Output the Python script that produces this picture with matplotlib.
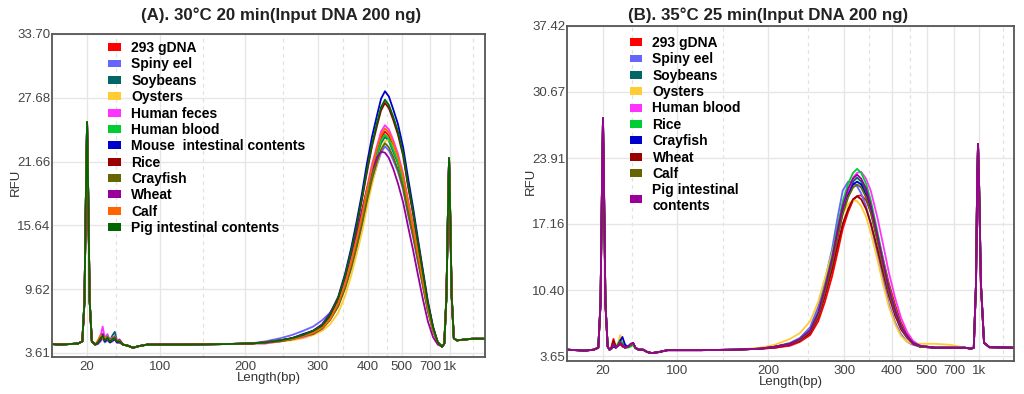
import numpy as np
import matplotlib
matplotlib.use("Agg")
import matplotlib.pyplot as plt
from matplotlib.patches import Patch

plt.rcParams['font.family'] = ['Liberation Sans', 'DejaVu Sans']

# colour order used by the instrument software
palette = ['#FF0000', '#6666FF', '#006666', '#FFCC33', '#FF33FF', '#00CC33',
           '#0000CC', '#990000', '#666600', '#990099', '#FF6600', '#006600']

ladder_labels = ['20', '100', '200', '300', '400', '500', '700', '1k']

# ---------------- panel A : 30°C 20 min ----------------
A_samples = ['293 gDNA', 'Spiny eel', 'Soybeans', 'Oysters', 'Human feces', 'Human blood',
             'Mouse  intestinal contents', 'Rice', 'Crayfish', 'Wheat', 'Calf',
             'Pig intestinal contents']
A_ladder_pos = [8.1, 24.9, 44.6, 61.4, 73.0, 80.8, 87.3, 91.9]
A_yticks = [3.61, 9.62, 15.64, 21.66, 27.68, 33.70]

A_pre_x = [0, 2, 4, 6, 7.0, 7.5, 7.85, 8.1, 8.35, 8.7, 9.2, 10.0]
A_pre_y = [4.45, 4.4, 4.45, 4.5, 4.7, 8.5, 19.0, 25.4, 19.0, 8.5, 4.7, 4.4]
A_bump_x = [10.6, 11.2, 11.7, 12.2, 12.8, 13.4, 14.0, 14.5, 15.0, 15.6, 16.4]
A_bumps = [
    [4.6, 5.0, 5.3, 4.8, 5.1, 4.7, 4.9, 5.0, 4.6, 4.8, 4.4],
    [4.5, 4.7, 5.0, 4.6, 4.8, 4.6, 4.7, 4.9, 4.6, 4.6, 4.4],
    [4.6, 4.9, 5.1, 4.7, 5.0, 4.8, 5.3, 5.6, 4.8, 4.7, 4.4],
    [4.5, 4.8, 5.0, 4.7, 4.9, 4.6, 4.8, 4.9, 4.7, 4.6, 4.4],
    [4.7, 5.2, 6.1, 5.0, 5.4, 4.8, 5.1, 5.2, 4.8, 4.9, 4.4],
    [4.6, 5.0, 5.4, 4.8, 5.2, 4.7, 5.0, 5.1, 4.7, 4.7, 4.4],
    [4.5, 4.8, 5.1, 4.7, 4.9, 4.6, 4.8, 4.9, 4.6, 4.6, 4.4],
    [4.6, 4.9, 5.2, 4.8, 5.0, 4.7, 4.9, 5.0, 4.7, 4.8, 4.4],
    [4.6, 5.1, 5.3, 4.9, 5.1, 4.8, 5.0, 5.1, 4.7, 4.8, 4.4],
    [4.5, 4.9, 5.4, 4.8, 5.0, 4.7, 4.9, 5.0, 4.7, 4.7, 4.4],
    [4.8, 5.3, 5.0, 5.1, 4.9, 4.8, 4.9, 5.0, 4.8, 4.7, 4.4],
    [4.6, 5.0, 5.2, 4.8, 5.0, 4.7, 4.9, 5.0, 4.7, 4.7, 4.4],
]
A_mid_x = [17.5, 18.7, 20.0, 22.0, 30.0, 40.0]
A_mid_y = [4.3, 4.1, 4.25, 4.4, 4.4, 4.45]
A_peak_x = [45.7, 49.2, 52.7, 55.4, 58.0, 60.3, 62.4, 64.2, 66.1, 67.7, 69.1, 70.4, 71.6, 72.7,
            73.9, 75.1, 76.0, 76.9, 77.8, 78.8, 79.9, 81.1, 82.2, 83.4, 84.5, 85.7, 86.8, 88.0,
            89.1, 90.1]
A_peaks = [
    [4.5, 4.6, 4.8, 4.9, 5.2, 5.5, 6.0, 6.8, 8.2, 10.0, 12.0, 14.2, 16.5, 18.7, 20.9, 22.7, 23.9, 24.5, 24.1, 23.1, 21.9, 20.1, 17.7, 15.3, 12.8, 10.2, 7.8, 5.8, 4.6, 4.2],
    [4.5, 4.7, 5.0, 5.3, 5.7, 6.1, 6.7, 7.4, 8.6, 10.1, 11.8, 13.6, 15.6, 17.7, 19.7, 21.4, 22.5, 23.1, 22.7, 21.8, 20.7, 19.0, 16.7, 14.5, 12.2, 9.8, 7.6, 5.7, 4.6, 4.2],
    [4.5, 4.6, 4.8, 4.9, 5.2, 5.5, 6.0, 6.8, 8.1, 9.9, 11.8, 14.0, 16.2, 18.3, 20.5, 22.2, 23.4, 24.0, 23.6, 22.6, 21.5, 19.7, 17.3, 15.0, 12.6, 10.1, 7.7, 5.8, 4.6, 4.2],
    [4.5, 4.5, 4.7, 4.8, 5.0, 5.3, 5.7, 6.3, 7.4, 9.0, 10.9, 13.0, 15.0, 17.3, 19.5, 21.5, 22.9, 23.6, 23.7, 23.0, 21.9, 20.3, 18.0, 15.6, 13.1, 10.5, 8.0, 5.9, 4.6, 4.2],
    [4.5, 4.5, 4.7, 4.9, 5.1, 5.4, 5.9, 6.8, 8.3, 10.2, 12.3, 14.5, 16.8, 19.1, 21.4, 23.2, 24.5, 25.1, 24.7, 23.7, 22.4, 20.5, 18.1, 15.6, 13.1, 10.4, 7.9, 5.8, 4.6, 4.2],
    [4.5, 4.6, 4.8, 4.9, 5.2, 5.5, 6.0, 6.8, 8.2, 9.9, 11.9, 14.1, 16.3, 18.5, 20.6, 22.4, 23.6, 24.2, 23.8, 22.8, 21.6, 19.8, 17.5, 15.1, 12.7, 10.1, 7.8, 5.8, 4.6, 4.2],
    [4.5, 4.6, 4.8, 5.0, 5.4, 5.7, 6.3, 7.3, 8.9, 11.1, 13.5, 16.1, 18.7, 21.4, 24.0, 26.1, 27.6, 28.3, 27.8, 26.6, 25.2, 23.0, 20.2, 17.3, 14.4, 11.3, 8.5, 6.1, 4.6, 4.2],
    [4.5, 4.6, 4.8, 5.0, 5.3, 5.7, 6.2, 7.1, 8.7, 10.8, 13.1, 15.6, 18.1, 20.6, 23.1, 25.1, 26.5, 27.2, 26.7, 25.6, 24.2, 22.2, 19.4, 16.7, 14.0, 11.0, 8.3, 6.0, 4.6, 4.2],
    [4.5, 4.6, 4.7, 4.9, 5.2, 5.4, 5.9, 6.7, 8.0, 9.7, 11.6, 13.7, 15.8, 17.9, 20.0, 21.7, 22.8, 23.4, 23.0, 22.1, 20.9, 19.2, 16.9, 14.7, 12.4, 9.9, 7.6, 5.7, 4.6, 4.2],
    [4.5, 4.6, 4.8, 5.0, 5.3, 5.7, 6.3, 7.3, 8.8, 10.8, 12.9, 15.0, 17.1, 19.0, 20.8, 22.1, 22.6, 22.5, 22.0, 21.0, 19.6, 17.8, 15.6, 13.3, 11.0, 8.6, 6.6, 5.1, 4.4, 4.2],
    [4.5, 4.6, 4.8, 4.9, 5.2, 5.5, 6.0, 6.8, 8.3, 10.1, 12.2, 14.4, 16.6, 18.9, 21.1, 23.0, 24.2, 24.8, 24.4, 23.4, 22.1, 20.3, 17.9, 15.4, 13.0, 10.3, 7.9, 5.8, 4.6, 4.2],
    [4.5, 4.6, 4.8, 5.0, 5.3, 5.7, 6.2, 7.2, 8.8, 10.9, 13.2, 15.7, 18.3, 20.8, 23.3, 25.4, 26.8, 27.5, 27.0, 25.9, 24.5, 22.4, 19.6, 16.9, 14.1, 11.1, 8.3, 6.0, 4.6, 4.2],
]
A_post_x = [90.6, 91.1, 91.45, 91.7, 91.95, 92.3, 92.8, 93.5, 97.0, 100.0]
A_post_y = [4.5, 9.0, 17.0, 22.0, 17.0, 9.0, 5.0, 4.8, 4.95, 4.95]

# ---------------- panel B : 35°C 25 min ----------------
B_samples = ['293 gDNA', 'Spiny eel', 'Soybeans', 'Oysters', 'Human blood', 'Rice',
             'Crayfish', 'Wheat', 'Calf', 'Pig intestinal\ncontents']
B_ladder_pos = [8.05, 24.6, 45.0, 62.0, 72.7, 80.5, 86.6, 92.2]
B_yticks = [3.65, 10.40, 17.16, 23.91, 30.67, 37.42]

B_pre_x = [0, 2, 4, 6, 7.0, 7.5, 7.8, 8.05, 8.3, 8.6, 9.1, 9.5]
B_pre_y = [4.3, 4.25, 4.2, 4.3, 4.5, 9.0, 20.0, 28.0, 20.0, 9.0, 4.6, 4.3]
B_bump_x = [9.9, 10.4, 10.9, 11.5, 11.9, 12.4, 13.0, 13.6, 14.2, 14.8, 15.3, 16.0]
B_bumps = [
    [4.5, 5.4, 4.6, 4.8, 4.9, 4.6, 4.5, 4.6, 4.8, 4.9, 4.5, 4.3],
    [4.4, 4.7, 4.5, 4.8, 5.1, 4.7, 4.5, 4.6, 4.8, 4.9, 4.5, 4.3],
    [4.4, 4.8, 4.5, 4.9, 5.2, 4.8, 4.5, 4.6, 4.8, 4.9, 4.5, 4.3],
    [4.4, 4.6, 4.6, 5.1, 5.8, 4.9, 4.5, 4.6, 4.7, 4.8, 4.5, 4.3],
    [4.4, 4.7, 4.5, 4.8, 5.0, 4.7, 4.5, 4.6, 4.8, 4.9, 4.5, 4.3],
    [4.4, 4.8, 4.5, 5.0, 5.3, 5.0, 4.7, 4.5, 4.6, 4.8, 4.4, 4.3],
    [4.4, 4.6, 4.5, 4.8, 5.2, 5.6, 4.8, 4.6, 4.8, 5.0, 4.5, 4.3],
    [4.5, 5.2, 4.6, 4.7, 4.9, 4.7, 4.5, 4.6, 4.8, 4.9, 4.5, 4.3],
    [4.4, 4.8, 4.5, 4.8, 5.1, 4.8, 4.5, 4.6, 4.8, 4.9, 4.5, 4.3],
    [4.4, 4.9, 4.5, 4.7, 5.0, 4.8, 4.5, 4.6, 4.9, 5.0, 4.5, 4.3],
]
B_mid_x = [17.0, 18.0, 19.0, 20.5, 22.5, 30.0, 38.0]
B_mid_y = [4.3, 4.05, 3.95, 4.05, 4.25, 4.25, 4.3]
B_peak_x = [43.2, 46.5, 49.9, 52.1, 54.4, 56.2, 57.7, 59.3, 60.6, 61.7, 62.9, 64.0, 64.9, 65.8,
            66.9, 68.0, 69.4, 70.7, 72.0, 73.4, 74.7, 76.1, 77.4, 79.0, 82.3, 85.7, 89.0, 90.4]
B_peaks = [
    [4.4, 4.5, 4.7, 5.1, 5.8, 7.2, 9.2, 11.8, 14.4, 16.7, 18.4, 19.6, 20.0, 20.1, 19.6, 18.4, 16.1, 13.6, 11.1, 8.9, 7.1, 5.9, 5.1, 4.7, 4.5, 4.5, 4.5, 4.4],
    [4.4, 4.6, 5.0, 5.5, 6.6, 8.7, 11.4, 14.6, 18.0, 20.6, 21.5, 21.4, 21.0, 20.3, 19.0, 17.0, 14.2, 11.5, 9.0, 7.1, 5.9, 5.1, 4.8, 4.6, 4.5, 4.5, 4.5, 4.4],
    [4.4, 4.6, 4.9, 5.4, 6.2, 8.0, 10.5, 13.5, 16.4, 18.7, 20.5, 21.5, 21.9, 21.5, 20.5, 18.7, 15.9, 13.1, 10.5, 8.3, 6.7, 5.6, 5.0, 4.7, 4.5, 4.5, 4.5, 4.4],
    [4.5, 4.8, 5.4, 6.0, 7.2, 9.2, 11.6, 14.2, 16.6, 18.2, 19.2, 19.6, 19.5, 19.0, 17.9, 16.2, 13.6, 11.0, 8.7, 6.9, 5.7, 5.1, 4.9, 4.9, 4.9, 4.8, 4.5, 4.4],
    [4.4, 4.5, 4.8, 5.2, 6.0, 7.6, 9.9, 12.8, 15.8, 18.4, 20.5, 21.9, 22.4, 22.5, 21.8, 20.5, 17.9, 15.1, 12.2, 9.6, 7.6, 6.1, 5.2, 4.7, 4.5, 4.5, 4.5, 4.4],
    [4.4, 4.6, 4.9, 5.4, 6.3, 8.2, 10.8, 13.9, 17.1, 19.5, 21.3, 22.4, 22.8, 22.4, 21.3, 19.5, 16.5, 13.6, 10.8, 8.5, 6.8, 5.7, 5.0, 4.7, 4.5, 4.5, 4.5, 4.4],
    [4.4, 4.6, 4.9, 5.3, 6.2, 7.9, 10.3, 13.2, 16.2, 18.4, 20.1, 21.2, 21.5, 21.2, 20.1, 18.4, 15.7, 12.9, 10.3, 8.2, 6.6, 5.6, 5.0, 4.6, 4.5, 4.5, 4.5, 4.4],
    [4.4, 4.5, 4.8, 5.2, 6.0, 7.6, 9.8, 12.5, 15.1, 17.2, 18.7, 19.7, 20.0, 19.7, 18.7, 17.2, 14.7, 12.2, 9.8, 7.8, 6.4, 5.5, 4.9, 4.6, 4.5, 4.5, 4.5, 4.4],
    [4.4, 4.6, 4.9, 5.3, 6.2, 7.8, 10.2, 13.1, 16.0, 18.2, 19.9, 20.9, 21.2, 20.9, 19.9, 18.2, 15.5, 12.8, 10.2, 8.1, 6.6, 5.6, 5.0, 4.6, 4.5, 4.5, 4.5, 4.4],
    [4.4, 4.6, 4.9, 5.4, 6.3, 8.1, 10.6, 13.6, 16.7, 19.0, 20.8, 21.8, 22.2, 21.8, 20.8, 19.0, 16.1, 13.3, 10.6, 8.3, 6.7, 5.7, 5.0, 4.7, 4.5, 4.5, 4.5, 4.4],
]
B_post_x = [91.0, 91.5, 91.75, 91.95, 92.2, 92.6, 93.3, 94.5, 100.0]
B_post_y = [4.5, 11.0, 21.0, 25.35, 21.0, 11.0, 5.0, 4.55, 4.5]


def draw_panel(ax, samples, bump_x, bumps, peak_x, peaks, pre, mid, post,
               ladder_pos, yticks, minor_pos, ylim):
    for i, name in enumerate(samples):
        xs = pre[0] + bump_x + mid[0] + peak_x + post[0]
        ys = pre[1] + bumps[i] + mid[1] + peaks[i] + post[1]
        ax.plot(xs, ys, color=palette[i], lw=1.3, solid_joinstyle='round')

    ax.set_xlim(0, 100)
    ax.set_ylim(*ylim)
    ax.set_xticks(ladder_pos)
    ax.set_xticklabels(ladder_labels)
    ax.set_yticks(yticks)
    ax.set_yticklabels(['%.2f' % v for v in yticks])
    ax.tick_params(length=0, labelsize=9.5, labelcolor='#444444', pad=3)
    ax.tick_params(axis='y', pad=1)
    ax.grid(True, color='#e6e6e6', lw=1.0)
    ax.set_axisbelow(True)
    for p in minor_pos:
        ax.axvline(p, color='#e2e2e2', lw=0.9, ls=(0, (3, 3)), zorder=0)
    for s in ax.spines.values():
        s.set_color('#555555')
        s.set_linewidth(1.3)
    ax.set_xlabel('Length(bp)', fontsize=9.5, color='#333333', labelpad=-1)
    ax.set_ylabel('RFU', fontsize=9.5, color='#333333')

    handles = [Patch(facecolor=palette[i], edgecolor='none') for i in range(len(samples))]
    return handles


fig = plt.figure(figsize=(10.24, 3.94), dpi=100)
axA = fig.add_axes([52 / 1024, 37 / 394, 433 / 1024, 323 / 394])
axB = fig.add_axes([567 / 1024, 33 / 394, 447 / 1024, 335 / 394])

hA = draw_panel(axA, A_samples, A_bump_x, A_bumps, A_peak_x, A_peaks,
                (A_pre_x, A_pre_y), (A_mid_x, A_mid_y), (A_post_x, A_post_y),
                A_ladder_pos, A_yticks, [14.8, 34.9, 53.3, 67.2, 77.4, 97.2], (3.23, 33.70))
hB = draw_panel(axB, B_samples, B_bump_x, B_bumps, B_peak_x, B_peaks,
                (B_pre_x, B_pre_y), (B_mid_x, B_mid_y), (B_post_x, B_post_y),
                B_ladder_pos, B_yticks, [14.5, 34.8, 53.9, 67.6, 76.7, 97.5], (3.14, 37.42))

axA.yaxis.set_label_coords(-0.07, 0.54)
axB.yaxis.set_label_coords(-0.068, 0.535)

legA = axA.legend(hA, A_samples, loc='upper left', bbox_to_anchor=(0.13, 0.978),
                  frameon=False, prop={'weight': 'bold', 'size': 10},
                  handlelength=0.9, handleheight=0.5, handletextpad=0.75,
                  labelspacing=0.17, borderpad=0, borderaxespad=0)
legB = axB.legend(hB, B_samples, loc='upper left', bbox_to_anchor=(0.14, 0.97),
                  frameon=False, prop={'weight': 'bold', 'size': 10},
                  handlelength=0.9, handleheight=0.5, handletextpad=0.75,
                  labelspacing=0.17, borderpad=0, borderaxespad=0)

fig.text(281 / 1024, 1 - 15 / 394, '(A). 30°C 20 min(Input DNA 200 ng)',
         ha='center', va='center', fontsize=12.2, fontweight='bold', color='#222222')
fig.text(768 / 1024, 1 - 15 / 394, '(B). 35°C 25 min(Input DNA 200 ng)',
         ha='center', va='center', fontsize=12.2, fontweight='bold', color='#222222')

fig.savefig('out.png', dpi=100)
